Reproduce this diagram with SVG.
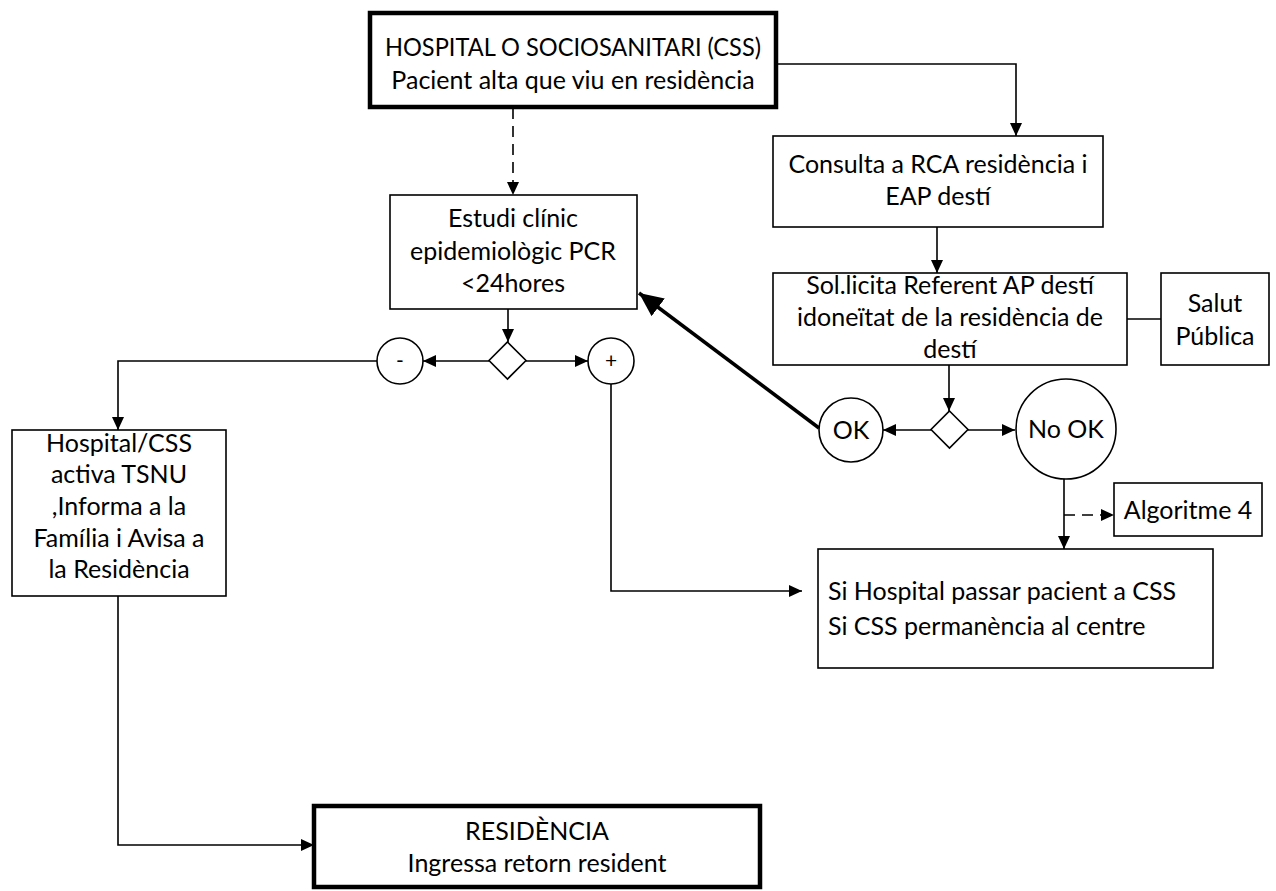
<svg xmlns="http://www.w3.org/2000/svg" width="1276" height="891" viewBox="0 0 1276 891">
<style>
  .box { fill: #fff; stroke: #000; stroke-width: 1.6; }
  .thick { fill: #fff; stroke: #000; stroke-width: 4.5; }
  .t { font-family: Lato, "Open Sans", sans-serif; font-size: 25px; fill: #000; text-anchor: middle; }
  .tl { font-family: Lato, "Open Sans", sans-serif; font-size: 25px; fill: #000; text-anchor: start; }
  .ts { font-family: Lato, "Open Sans", sans-serif; font-size: 21px; fill: #000; text-anchor: middle; }
  .ln { fill: none; stroke: #000; stroke-width: 1.6; }
  .dash { stroke-dasharray: 11 7; }
  .bold { stroke-width: 3.5; }
</style>
<defs>
  <marker id="ah" markerUnits="userSpaceOnUse" markerWidth="14" markerHeight="14" refX="13" refY="6" orient="auto">
    <path d="M0,0 L13,6 L0,12 Z" fill="#000"/>
  </marker>
  <marker id="ahb" markerUnits="userSpaceOnUse" markerWidth="26" markerHeight="24" refX="24" refY="11" orient="auto">
    <path d="M0,0 L24,11 L0,22 Z" fill="#000"/>
  </marker>
</defs>

<g id="connectors">
  <path class="ln" d="M776,64 H1016 V136" marker-end="url(#ah)"/>
  <path class="ln dash" d="M513,108 V195" marker-end="url(#ah)"/>
  <path class="ln" d="M937,227 V273" marker-end="url(#ah)"/>
  <path class="ln" d="M1127,319 H1161"/>
  <path class="ln" d="M949,365 V411" marker-end="url(#ah)"/>
  <path class="ln" d="M931,430 H883" marker-end="url(#ah)"/>
  <path class="ln" d="M968,430 H1015" marker-end="url(#ah)"/>
  <path class="ln bold" d="M819,428 L639,293" marker-end="url(#ahb)"/>
  <path class="ln" d="M1064,479 V549" marker-end="url(#ah)"/>
  <path class="ln dash" d="M1064,515 H1114" marker-end="url(#ah)"/>
  <path class="ln" d="M508,309 V342" marker-end="url(#ah)"/>
  <path class="ln" d="M489,361 H423" marker-end="url(#ah)"/>
  <path class="ln" d="M526,361 H588" marker-end="url(#ah)"/>
  <path class="ln" d="M377,361 H118 V430" marker-end="url(#ah)"/>
  <path class="ln" d="M611,384 V591 H802" marker-end="url(#ah)"/>
  <path class="ln" d="M118,596 V845 H314" marker-end="url(#ah)"/>
</g>

<g id="hospital">
  <rect class="thick" x="370" y="13" width="406" height="94"/>
  <text class="t" x="573" y="56" textLength="376" lengthAdjust="spacingAndGlyphs">HOSPITAL O SOCIOSANITARI (CSS)</text>
  <text class="t" x="573" y="89">Pacient alta que viu en residència</text>
</g>

<g id="consulta">
  <rect class="box" x="773" y="136" width="330" height="91"/>
  <text class="t" x="938" y="173">Consulta a RCA residència i</text>
  <text class="t" x="938" y="205">EAP destí</text>
</g>

<g id="solicita">
  <rect class="box" x="773" y="273" width="354" height="92"/>
  <text class="t" x="950" y="294">Sol.licita Referent AP destí</text>
  <text class="t" x="950" y="326">idoneïtat de la residència de</text>
  <text class="t" x="950" y="358">destí</text>
</g>

<g id="salut">
  <rect class="box" x="1161" y="273" width="108" height="92"/>
  <text class="t" x="1215" y="312">Salut</text>
  <text class="t" x="1215" y="345">Pública</text>
</g>

<g id="decision2">
  <path class="box" d="M949.5,411 L968,429.5 L949.5,448 L931,429.5 Z"/>
</g>

<g id="ok">
  <circle class="box" cx="851" cy="430" r="32"/>
  <text class="t" x="851" y="439">OK</text>
</g>

<g id="nook">
  <circle class="box" cx="1066" cy="429" r="50"/>
  <text class="t" x="1066" y="438">No OK</text>
</g>

<g id="algoritme">
  <rect class="box" x="1114" y="483" width="148" height="53"/>
  <text class="t" x="1188" y="519">Algoritme 4</text>
</g>

<g id="si">
  <rect class="box" x="818" y="549" width="395" height="119"/>
  <text class="tl" x="828" y="600">Si Hospital passar pacient a CSS</text>
  <text class="tl" x="828" y="635">Si CSS permanència al centre</text>
</g>

<g id="estudi">
  <rect class="box" x="390" y="195" width="247" height="114"/>
  <text class="t" x="513" y="227">Estudi clínic</text>
  <text class="t" x="513" y="260">epidemiològic PCR</text>
  <text class="t" x="513" y="292">&lt;24hores</text>
</g>

<g id="decision1">
  <path class="box" d="M507.5,342 L526,360.5 L507.5,379 L489,360.5 Z"/>
</g>

<g id="minus">
  <circle class="box" cx="400" cy="361" r="23"/>
  <text class="ts" x="400" y="368">-</text>
</g>

<g id="plus">
  <circle class="box" cx="611" cy="361" r="23"/>
  <text class="ts" x="611" y="368">+</text>
</g>

<g id="hospitalcss">
  <rect class="box" x="12" y="430" width="214" height="166"/>
  <text class="t" x="119" y="452">Hospital/CSS</text>
  <text class="t" x="119" y="483">activa TSNU</text>
  <text class="t" x="119" y="515">,Informa a la</text>
  <text class="t" x="119" y="547">Família i Avisa a</text>
  <text class="t" x="119" y="578">la Residència</text>
</g>

<g id="residencia">
  <rect class="thick" x="314" y="806" width="446" height="81"/>
  <text class="t" x="537" y="840">RESIDÈNCIA</text>
  <text class="t" x="537" y="872">Ingressa retorn resident</text>
</g>
</svg>
